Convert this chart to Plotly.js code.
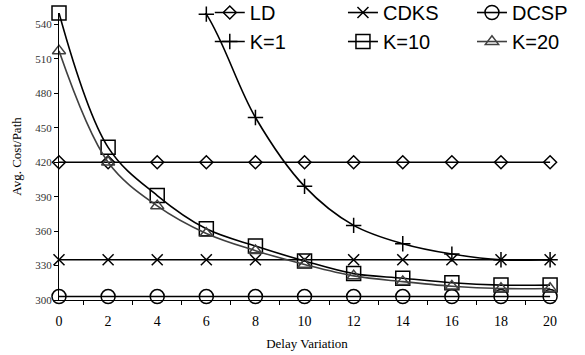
<!DOCTYPE html>
<html>
<head>
<meta charset="utf-8">
<script src="https://cdn.plot.ly/plotly-3.0.1.min.js"></script>
<style>html,body{margin:0;padding:0;background:#fff;}#chart{width:585px;height:355px;}</style>
</head>
<body>
<div id="chart"></div>
<script>
var delay = [0, 2, 4, 6, 8, 10, 12, 14, 16, 18, 20];
var ld   = [420, 420, 420, 420, 420, 420, 420, 420, 420, 420, 420];
var cdks = [335, 335, 335, 335, 335, 335, 335, 335, 335, 335, 335];
var dcsp = [303, 303, 303, 303, 303, 303, 303, 303, 303, 303, 303];
var k1   = [null, null, 600, 549, 459, 399, 365, 349, 340, 335, 335];
var k10  = [550, 433, 391, 362, 347, 334, 323, 319, 315, 313, 313];
var k20  = [517, 420, 382, 358, 343, 331, 321, 316, 312, 310, 310];
var yTicks = [300, 330, 360, 390, 420, 450, 480, 510, 540];
var xLabels = [0, 2, 4, 6, 8, 10, 12, 14, 16, 18, 20];
var xMinor = [1, 3, 5, 7, 9, 11, 13, 15, 17, 19];

function tr(name, y, sym, size, color, legend) {
  return {
    x: delay, y: y, name: name, type: 'scatter', mode: 'lines+markers',
    line: {color: color, width: 1.6, shape: 'spline', smoothing: 1},
    marker: {symbol: sym, size: size, color: color, line: {color: color, width: 1.5}},
    legend: legend, cliponaxis: false
  };
}
var data = [
  tr('LD', ld, 'diamond-open', 10, '#000', 'legend'),
  tr('CDKS', cdks, 'x-thin-open', 11, '#000', 'legend2'),
  tr('DCSP', dcsp, 'circle-open', 14, '#000', 'legend3'),
  tr('K=1', k1, 'cross-thin-open', 11, '#000', 'legend'),
  tr('K=10', k10, 'square-open', 14, '#000', 'legend2'),
  tr('K=20', k20, 'triangle-up-open', 11.5, '#404040', 'legend3')
];
var legFont = {family: 'Liberation Sans, Arial, sans-serif', size: 20, color: '#000'};
function leg(x) {
  return {
    orientation: 'v', x: x, xanchor: 'left', y: 1.0696, yanchor: 'top',
    bgcolor: 'rgba(0,0,0,0)', borderwidth: 0, font: legFont,
    itemclick: false, traceorder: 'normal', tracegroupgap: 0
  };
}
var layout = {
  width: 585, height: 355,
  margin: {l: 59, r: 30, t: 13, b: 54.5, autoexpand: false},
  paper_bgcolor: '#fff', plot_bgcolor: 'rgba(0,0,0,0)',
  showlegend: true,
  xaxis: {
    range: [0, 20.2], showgrid: false, zeroline: false,
    showline: true, linecolor: '#000', linewidth: 1,
    tickvals: xLabels, ticktext: xLabels.map(String), ticks: '',
    ticklabelstandoff: 8,
    tickfont: {family: 'Liberation Serif, Times New Roman, serif', size: 14, color: '#000'},
    minor: {tickvals: xMinor, ticks: 'outside', ticklen: 4, tickcolor: '#000', tickwidth: 1, showgrid: false},
    title: {text: 'Delay Variation', font: {family: 'Liberation Serif, Times New Roman, serif', size: 13, color: '#000'}, standoff: 11}
  },
  yaxis: {
    range: [300, 550], showgrid: false, zeroline: false,
    showline: true, linecolor: '#000', linewidth: 1,
    tickvals: yTicks, ticks: 'outside', ticklen: 4, tickcolor: '#000',
    tickfont: {family: 'Liberation Serif, Times New Roman, serif', size: 11, color: '#333'},
    title: {text: 'Avg. Cost/Path', font: {family: 'Liberation Serif, Times New Roman, serif', size: 13, color: '#000'}, standoff: 10}
  },
  legend: leg(0.304),
  legend2: leg(0.5725),
  legend3: leg(0.8326)
};
Plotly.newPlot('chart', data, layout, {displayModeBar: false, staticPlot: true});
</script>
</body>
</html>
